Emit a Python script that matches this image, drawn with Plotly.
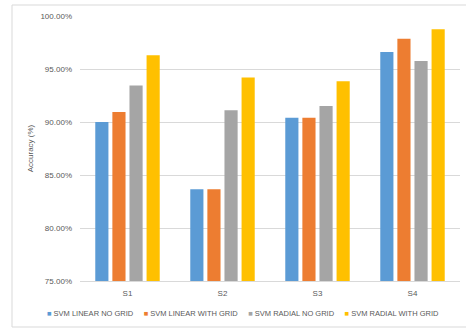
import plotly.graph_objects as go

categories = ["S1", "S2", "S3", "S4"]
series_names = ["SVM LINEAR NO GRID", "SVM LINEAR WITH GRID", "SVM RADIAL NO GRID", "SVM RADIAL WITH GRID"]
linear_no_grid = [90.0, 83.65, 90.4, 96.6]
linear_with_grid = [90.95, 83.65, 90.4, 97.85]
radial_no_grid = [93.45, 91.1, 91.5, 95.75]
radial_with_grid = [96.3, 94.2, 93.85, 98.75]
colors = ["#5B9BD5", "#ED7D31", "#A5A5A5", "#FFC000"]

W, H = 466, 329
L, R, T, B = 80, 6, 16, 48
pw, ph = W - L - R, H - T - B

def px(x):
    return (x - L) / pw

def py(y):
    return (H - B - y) / ph

fig = go.Figure()
for name, vals, c in zip(series_names, [linear_no_grid, linear_with_grid, radial_no_grid, radial_with_grid], colors):
    fig.add_trace(go.Bar(x=categories, y=vals, name=name, marker=dict(color=c, line=dict(width=0))))

font = "Liberation Sans, DejaVu Sans, sans-serif"
fig.update_layout(
    width=W, height=H,
    margin=dict(l=L, r=R, t=T, b=B, autoexpand=False),
    paper_bgcolor="white", plot_bgcolor="white",
    barmode="group", bargap=0.28, bargroupgap=0.23,
    font=dict(family=font, size=8, color="#595959"),
    showlegend=False,
    xaxis=dict(showgrid=False, ticks="", tickfont=dict(size=8, color="#595959"),
               showline=True, linecolor="#D9D9D9", linewidth=1, ticklabelstandoff=4),
    yaxis=dict(range=[75, 100], dtick=5, tickformat=".2f", ticksuffix="%",
               showgrid=True, gridcolor="#D9D9D9", gridwidth=1, zeroline=False,
               tickfont=dict(size=8, color="#595959"), ticks="", ticklabelstandoff=7,
               title=dict(text="Accuracy (%)", font=dict(size=8, color="#595959"), standoff=5)),
)

# outer chart border
fig.add_shape(type="rect", xref="paper", yref="paper",
              x0=px(12), x1=px(470), y0=py(327), y1=py(5),
              line=dict(color="#D9D9D9", width=1), fillcolor="rgba(0,0,0,0)", layer="below")

# legend built from the series names and colours
legend_text = "&nbsp;&nbsp;&nbsp;&nbsp;&nbsp;".join(
    f"<span style='color:{c}'>■</span> {n}" for n, c in zip(series_names, colors))
fig.add_annotation(text=legend_text, xref="paper", yref="paper", x=px(243), y=py(313),
                   xanchor="center", yanchor="middle", showarrow=False,
                   font=dict(size=7.5, color="#595959", family=font))

fig.write_html("out.html")
